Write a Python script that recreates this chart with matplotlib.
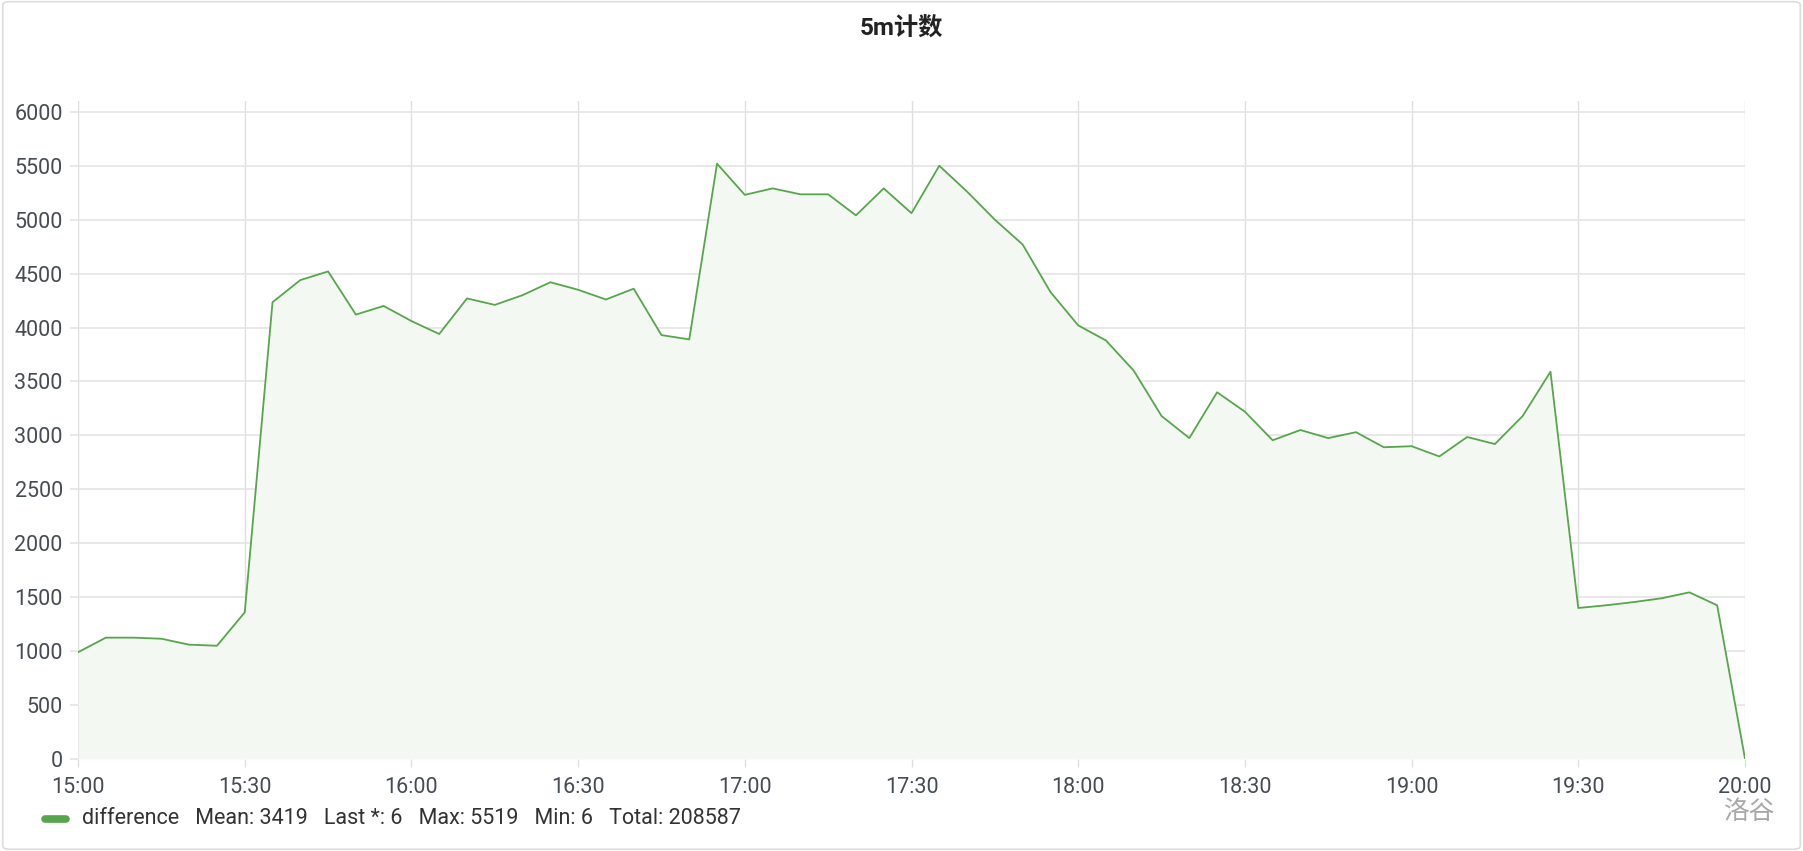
import numpy as np
import pandas as pd
import matplotlib
matplotlib.use('Agg')
import matplotlib.pyplot as plt
import matplotlib.dates as mdates
from matplotlib.patches import FancyBboxPatch
from matplotlib.lines import Line2D

# ============================================================================
# ДАННЫЕ
# ============================================================================

TITLE = '5m计数'
SERIES_NAME = 'difference'
WATERMARK = '洛谷'

# отсчёты каждые 5 минут, 15:00 ... 20:00
times = pd.date_range('2020-01-01 15:00', periods=61, freq='5min')

values = [
    990, 1125, 1125, 1115, 1060, 1050, 1360, 4235, 4440, 4520,   # 15:00 - 15:45
    4120, 4200, 4060, 3940, 4270, 4210, 4300, 4420, 4350, 4260,  # 15:50 - 16:35
    4360, 3930, 3890, 5519, 5230, 5290, 5235, 5235, 5040, 5290,  # 16:40 - 17:25
    5060, 5500, 5260, 5000, 4770, 4330, 4020, 3880, 3600, 3180,  # 17:30 - 18:15
    2975, 3400, 3220, 2955, 3050, 2975, 3030, 2890, 2900, 2805,  # 18:20 - 19:05
    2985, 2920, 3180, 3590, 1400, 1425, 1455, 1490, 1545, 1425,  # 19:10 - 19:55
    6,                                                           # 20:00
]

legend_stats = ['Mean: 3419', 'Last *: 6', 'Max: 5519', 'Min: 6', 'Total: 208587']

y_ticks = list(range(0, 6001, 500))

# ============================================================================
# ОФОРМЛЕНИЕ
# ============================================================================

LINE_COLOR = '#56a64b'
FILL_COLOR = '#f4f8f3'
GRID_COLOR = '#e4e4e4'
VGRID_COLOR = '#dedede'
TEXT_COLOR = '#464c54'
FONTS = ['Roboto', 'Noto Sans CJK SC', 'DejaVu Sans']
TICK_FS = 15.5

plt.rcParams['font.family'] = FONTS

fig = plt.figure(figsize=(18.03, 8.51), dpi=100)
fig.patch.set_facecolor('white')

# рамка панели
frame = FancyBboxPatch((0.0015, 0.002), 0.997, 0.996, boxstyle='round,pad=0,rounding_size=0.004',
                       transform=fig.transFigure, facecolor='none', edgecolor='#dcdcdc',
                       linewidth=1.2, zorder=0)
fig.patches.append(frame)

ax = fig.add_axes([0.0433, 0.1081, 0.9245, 0.7732])

ax.fill_between(times, values, 0, color=FILL_COLOR, zorder=1, linewidth=0)
ax.plot(times, values, color=LINE_COLOR, linewidth=1.3, zorder=3)

ax.set_xlim(times[0], times[-1])
ax.set_ylim(0, 6100)
ax.set_yticks(y_ticks)

ax.xaxis.set_major_locator(mdates.MinuteLocator(byminute=[0, 30]))
ax.xaxis.set_major_formatter(mdates.DateFormatter('%H:%M'))

ax.grid(True, axis='y', color=GRID_COLOR, linewidth=1.2, zorder=0)
ax.grid(True, axis='x', color=VGRID_COLOR, linewidth=1.0, zorder=0)
ax.set_axisbelow(True)

for s in ax.spines.values():
    s.set_visible(False)

ax.tick_params(axis='y', length=6, width=1.2, color=GRID_COLOR, labelsize=TICK_FS,
               labelcolor=TEXT_COLOR, pad=5)
ax.tick_params(axis='x', length=6, width=1.0, color=VGRID_COLOR, labelsize=TICK_FS,
               labelcolor=TEXT_COLOR, pad=7)

# заголовок
fig.text(0.5, 1 - 29 / 851, TITLE, ha='center', va='center', fontsize=17.5,
         fontweight='bold', color='#222222', family=FONTS)

# легенда
fig.add_artist(Line2D([45 / 1803, 66 / 1803], [1 - 819 / 851, 1 - 819 / 851],
                      color=LINE_COLOR, linewidth=5.5, solid_capstyle='round',
                      transform=fig.transFigure))
legend_text = SERIES_NAME + '   ' + '   '.join(legend_stats)
fig.text(82 / 1803, 1 - 819 / 851, legend_text, ha='left', va='center', fontsize=TICK_FS,
         color='#333333', family=FONTS)

# водяной знак
fig.text(1775 / 1803, 1 - 812 / 851, WATERMARK, ha='right', va='center', fontsize=18.5,
         color='#a8a8a8', family=['Noto Sans CJK SC', 'DejaVu Sans'])

fig.savefig('out.png', dpi=100)
